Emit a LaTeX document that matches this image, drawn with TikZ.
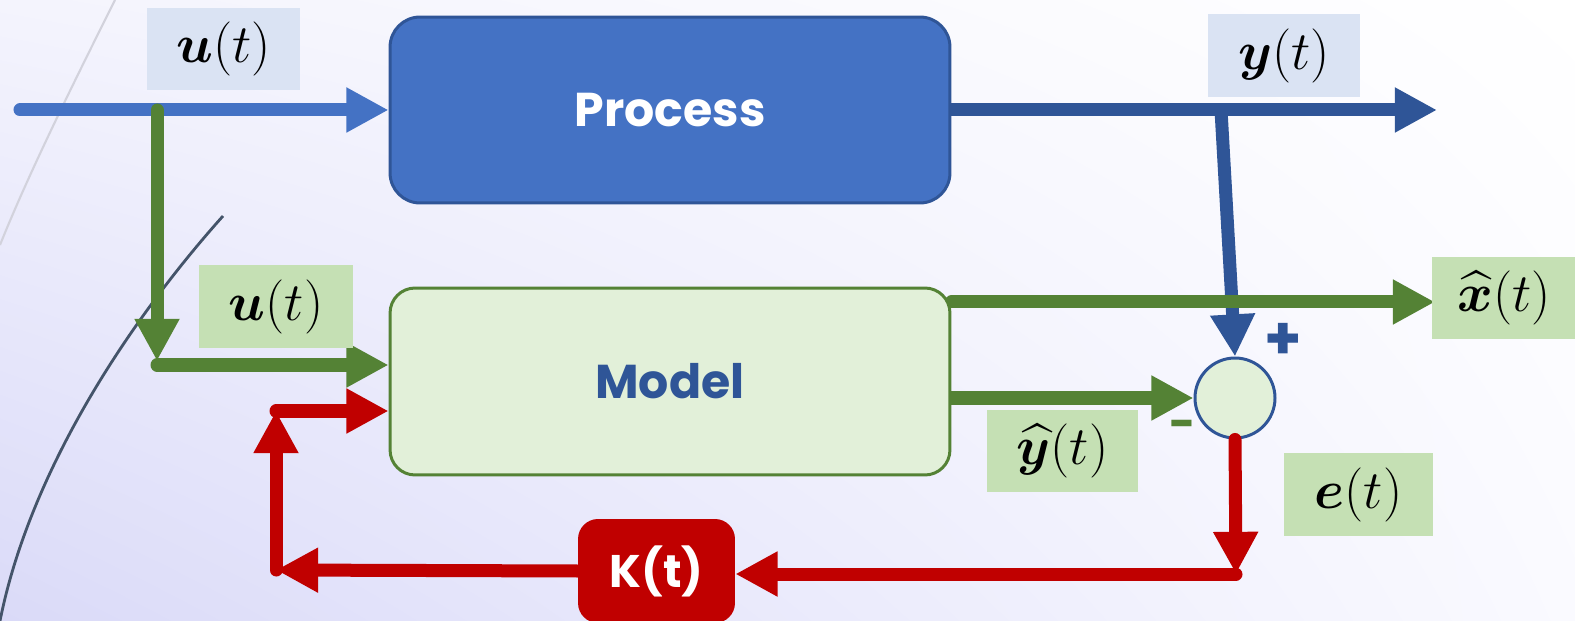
\documentclass[tikz,border=0pt]{standalone}
\usepackage{amsmath}
\usepackage{bm}
\usepackage{fontspec}
\usetikzlibrary{arrows.meta,shadings}
\newfontfamily\popfont{Poppins}
\newcommand{\lbltext}[1]{\scalebox{1.24}{\Huge$#1$}}
\definecolor{cblue}{HTML}{4472C4}
\definecolor{dblue}{HTML}{2F5597}
\definecolor{cgreen}{HTML}{548235}
\definecolor{cred}{HTML}{C00000}
\definecolor{lblue}{HTML}{DAE3F3}
\definecolor{lgreen}{HTML}{C5E0B4}
\definecolor{pgreen}{HTML}{E2F0D9}
\definecolor{arcdark}{HTML}{44546A}
\definecolor{arclight}{HTML}{D2D2DC}
\definecolor{bgA}{RGB}{244,244,253}
\definecolor{bgB}{RGB}{218,218,248}
\definecolor{bgC}{RGB}{250,250,255}
\pgfdeclarelayer{bg}
\pgfdeclarelayer{lines}
\pgfsetlayers{bg,lines,main}
\begin{document}
\begin{tikzpicture}[x=0.02cm,y=-0.02cm,
  conn/.style={line width=7.4pt, line cap=round, -{Triangle[length=24pt,width=24pt]}},
  blk/.style={rectangle, line width=1.7pt, minimum width=11.2cm, font=\popfont\bfseries\fontsize{27}{32}\selectfont},
  lbl/.style={rectangle, inner sep=0pt, minimum height=1.65cm},
  sign/.style={inner sep=0pt, font=\popfont\bfseries\fontsize{34}{38}\selectfont}]
\useasboundingbox (0,0) rectangle (1575,621);
\clip (0,0) rectangle (1575,621);
\begin{pgfonlayer}{bg}
\shade[upper left=bgA, upper right=white, lower left=bgB, lower right=bgC] (0,0) rectangle (1575,621);
\draw[arclight, line width=1.2pt] (115,0) .. controls (80,70) and (30,170) .. (0,245);
\draw[arcdark, line width=1.6pt] (223,216) .. controls (130,320) and (30,470) .. (0,621);
\end{pgfonlayer}

% blocks
\node[blk, fill=cblue, draw=dblue, rounded corners=0.6cm, minimum height=3.72cm, text=white] (process) at (670,110) {Process};
\node[blk, fill=pgreen, draw=cgreen, rounded corners=0.5cm, minimum height=3.74cm, text=dblue] (model) at (670,381.5) {Model};
\node[rectangle, fill=cred, rounded corners=0.4cm, minimum width=3.14cm, minimum height=2.08cm, text=white, font=\popfont\bfseries\fontsize{26}{30}\selectfont] (kbox) at (656.5,571) {K(t)};
\node[circle, fill=pgreen, draw=dblue, line width=1.7pt, minimum size=1.6cm, inner sep=0pt] (sum) at (1235,398) {};
\node[sign, text=dblue] (plus) at (1283,341) {+};
\node[sign, text=cgreen, font=\popfont\bfseries\fontsize{26}{30}\selectfont] (minus) at (1183,430) {-};

% labels
\node[lbl, fill=lblue, minimum width=3.06cm] (lu1) at (223.5,49) {\lbltext{\bm{u}(t)}};
\node[lbl, fill=lgreen, minimum width=3.08cm] (lu2) at (276,306.5) {\lbltext{\bm{u}(t)}};
\node[lbl, fill=lblue, minimum width=3.04cm] (ly) at (1284,55.5) {\lbltext{\bm{y}(t)}};
\node[lbl, fill=lgreen, minimum width=2.9cm] (lx) at (1504,298) {\lbltext{\widehat{\bm{x}}(t)}};
\node[lbl, fill=lgreen, minimum width=3.02cm] (lyh) at (1062.5,451) {\lbltext{\widehat{\bm{y}}(t)}};
\node[lbl, fill=lgreen, minimum width=2.98cm] (le) at (1358.5,494.5) {\lbltext{\bm{e}(t)}};

% connector coordinates
\coordinate (in) at (20,110);
\coordinate (ju) at (157,110);
\coordinate (jd) at (157,361);
\coordinate (jd2) at (157,365);
\coordinate (r1) at (276,411);
\coordinate (r2) at (276,570);
\coordinate (r3) at (1236,574);
\coordinate (yj) at (1221,110);
\coordinate (yo) at (1437,110);
\coordinate (xo) at (1435,302);

\begin{pgfonlayer}{lines}
\draw[conn, cblue] (in) -- (process.west);
\draw[conn, cgreen] (ju) -- (jd);
\draw[conn, cgreen] (jd2) -- (jd2 -| model.west);
\draw[conn, cred] (r1) -- (r1 -| model.west);
\draw[conn, cred] (r2) -- (r1);
\draw[conn, cred] (kbox.west) -- (r2);
\draw[conn, dblue] (process.east) -- (yo);
\draw[conn, dblue] (yj) -- (sum.north);
\draw[conn, cgreen] (model.east |- xo) -- (xo);
\draw[conn, cgreen] (model.east |- sum.west) -- (sum.west);
\end{pgfonlayer}
\draw[conn, cred] (sum.south) -- (r3);
\draw[conn, cred] (r3) -- (r3 -| kbox.east);
\end{tikzpicture}
\end{document}
